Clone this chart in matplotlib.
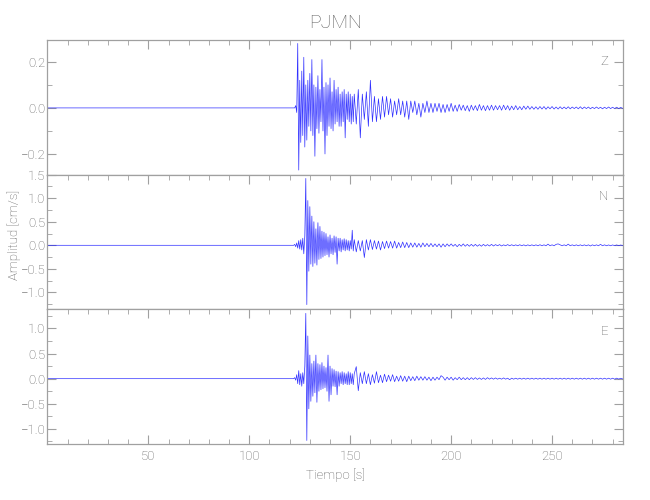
"""
    SEISMOGRAM PJMN - three components (Z, N, E)
"""
import numpy as np
from matplotlib import pyplot as plt
from matplotlib.ticker import MultipleLocator

# -- Station and components --
station = "PJMN"
components = ["Z", "N", "E"]

# -- Time sampling (s) --
pre_t = [0.0, 122.0]          # quiet part before the event
early_t0, early_dt = 122.0, 0.5
late_t0, late_dt = 152.0, 1.0

# -- Z component peaks (cm/s) --
z_early = [0.0, 0.0, 0.01, -0.02, 0.28, -0.27, 0.12, -0.15, 0.16, -0.12,
           0.22, -0.17, 0.10, -0.14, 0.12, -0.08, 0.15, -0.10, 0.21, -0.12,
           0.10, -0.21, 0.09, -0.09, 0.14, -0.11, 0.08, -0.06, 0.21, -0.10,
           0.09, -0.20, 0.11, -0.12, 0.10, -0.08, 0.13, -0.09, 0.07, -0.10,
           0.12, -0.07, 0.08, -0.06, 0.09, -0.08, 0.06, -0.08, 0.07, -0.06,
           0.08, -0.13, 0.06, -0.05, 0.07, -0.06, 0.06, -0.07, 0.05, -0.06]
z_late = [0.06, -0.07, 0.08, -0.13, 0.06, -0.05, 0.07, -0.08, 0.12, -0.06,
          0.05, -0.06, 0.04, -0.05, 0.05, -0.04, 0.05, -0.03, 0.04, -0.04,
          0.03, -0.03, 0.04, -0.03, 0.03, -0.04, 0.03, -0.05, 0.03, -0.02,
          0.03, -0.03, 0.02, -0.04, 0.02, -0.02, 0.03, -0.02, 0.02, -0.02,
          0.02, -0.015, 0.02, -0.02, 0.015, -0.02, 0.015, -0.015, 0.02, -0.015,
          0.012, -0.015, 0.015, -0.01, 0.012, -0.012, 0.01, -0.015, 0.012, -0.01,
          0.01, -0.012, 0.015, -0.01, 0.01, -0.012, 0.01, -0.01, 0.012, -0.01,
          0.01, -0.008, 0.01, -0.01, 0.012, -0.008, 0.01, -0.01, 0.008, -0.008,
          0.01, -0.008, 0.006, -0.008, 0.008, -0.006, 0.008, -0.006, 0.006, -0.006,
          0.005, -0.006, 0.006, -0.005, 0.006, -0.006, 0.005, -0.004, 0.006, -0.005,
          0.004, -0.005, 0.005, -0.004, 0.004, -0.004, 0.005, -0.004, 0.004, -0.003,
          0.004, -0.004, 0.005, -0.004, 0.004, -0.003, 0.004, -0.004, 0.003, -0.003,
          0.004, -0.003, 0.003, -0.004, 0.003, -0.003, 0.004, -0.003, 0.003, -0.003,
          0.003, -0.003, 0.002, -0.002]

# -- N component peaks (cm/s) --
n_early = [0.0, 0.02, -0.03, 0.05, -0.06, 0.10, -0.08, 0.12, -0.10, 0.15,
           -0.18, 0.20, 1.42, -1.26, 0.95, -0.55, 0.82, -0.40, 0.62, -0.45,
           0.50, -0.38, 0.35, -0.42, 0.48, -0.30, 0.40, -0.28, 0.30, -0.25,
           0.28, -0.22, 0.25, -0.20, 0.18, -0.25, 0.22, -0.18, 0.15, -0.20,
           0.20, -0.15, 0.18, -0.40, 0.15, -0.12, 0.15, -0.14, 0.12, -0.10,
           0.14, -0.12, 0.12, -0.10, 0.10, -0.12, 0.10, -0.08, 0.32, -0.12]
n_late = [0.12, -0.14, 0.10, -0.12, 0.10, -0.26, 0.12, -0.10, 0.12, -0.09,
          0.10, -0.08, 0.09, -0.10, 0.08, -0.07, 0.09, -0.06, 0.08, -0.06,
          0.09, -0.06, 0.06, -0.05, 0.07, -0.05, 0.06, -0.05, 0.05, -0.04,
          0.05, -0.04, 0.04, -0.04, 0.05, -0.03, 0.04, -0.03, 0.04, -0.03,
          0.03, -0.03, 0.03, -0.04, 0.03, -0.03, 0.03, -0.02, 0.03, -0.02,
          0.02, -0.03, 0.02, -0.02, 0.03, -0.02, 0.02, -0.02, 0.02, -0.02,
          0.02, -0.02, 0.015, -0.02, 0.02, -0.015, 0.015, -0.015, 0.02, -0.015,
          0.015, -0.01, 0.015, -0.015, 0.01, -0.01, 0.015, -0.01, 0.012, -0.01,
          0.01, -0.01, 0.012, -0.01, 0.01, -0.012, 0.01, -0.01, 0.01, -0.01,
          0.01, -0.01, 0.012, -0.01, 0.01, -0.01, 0.025, -0.01, 0.01, -0.01,
          0.02, 0.03, 0.01, -0.01, 0.01, -0.01, 0.025, -0.01, 0.01, -0.01,
          0.01, -0.01, 0.01, -0.01, 0.01, -0.01, 0.01, -0.015, 0.01, -0.01,
          0.01, -0.01, 0.02, -0.01, 0.01, -0.01, 0.008, -0.01, 0.008, -0.008,
          0.008, -0.008, 0.006, -0.005]

# -- E component peaks (cm/s) --
e_early = [0.0, 0.02, -0.03, 0.08, -0.10, 0.16, -0.12, 0.10, -0.15, 0.12,
           -0.10, 0.25, 1.30, -1.23, 0.85, -0.60, 0.47, -0.45, 0.30, -0.35,
           0.35, -0.28, 0.47, -0.47, 0.30, -0.25, 0.28, -0.22, 0.32, -0.20,
           0.25, -0.18, 0.22, -0.25, 0.47, -0.45, 0.25, -0.32, 0.20, -0.15,
           0.18, -0.16, 0.15, -0.32, 0.14, -0.15, 0.12, -0.10, 0.14, -0.12,
           0.12, -0.10, 0.10, -0.12, 0.14, -0.12, 0.12, -0.10, 0.10, -0.12]
e_late = [0.10, 0.24, -0.24, 0.12, -0.10, 0.14, -0.10, 0.10, -0.12, 0.08,
          -0.09, 0.14, -0.08, 0.07, -0.08, 0.09, -0.06, 0.07, -0.05, 0.08,
          -0.06, 0.05, -0.05, 0.06, -0.05, 0.05, -0.06, 0.05, -0.04, 0.04,
          -0.04, 0.05, -0.03, 0.04, -0.03, 0.04, -0.03, 0.03, -0.04, 0.03,
          -0.03, 0.03, -0.02, 0.06, 0.03, -0.03, 0.03, -0.02, 0.03, -0.03,
          0.02, -0.02, 0.03, -0.02, 0.02, -0.02, 0.02, -0.02, 0.02, -0.015,
          0.02, -0.015, 0.015, -0.015, 0.015, -0.015, 0.02, -0.01, 0.015, -0.01,
          0.015, -0.01, 0.01, -0.01, 0.015, -0.01, 0.01, -0.02, 0.01, -0.01,
          0.01, -0.01, 0.01, -0.01, 0.01, -0.01, 0.01, -0.01, 0.01, -0.01,
          0.01, -0.01, 0.01, -0.01, 0.01, -0.01, 0.01, -0.01, 0.01, -0.01,
          0.01, -0.01, 0.01, -0.01, 0.01, -0.01, 0.01, -0.01, 0.01, -0.01,
          0.01, -0.01, 0.01, -0.01, 0.01, -0.01, 0.01, -0.01, 0.01, -0.01,
          0.01, -0.01, 0.01, -0.01, 0.01, -0.01, 0.01, -0.01, 0.01, -0.01,
          0.01, -0.008, 0.008, -0.005]

traces = [(z_early, z_late), (n_early, n_late), (e_early, e_late)]

# -- Axis limits and ticks per panel --
y_limits = [(-0.29, 0.295), (-1.36, 1.5), (-1.3, 1.38)]
y_major = [0.2, 0.5, 0.5]
y_minor = [0.1, 0.25, 0.25]
x_limits = (0, 285)
x_ticks = [50, 100, 150, 200, 250]

GREY = '#a0a0a0'
TEXT = '#5e5e5e'

plt.rcParams['font.family'] = ['Roboto', 'DejaVu Sans']
plt.rcParams['font.weight'] = 'light'

fig, axes = plt.subplots(3, 1, figsize=(6.5, 5), dpi=100, sharex=True)
fig.subplots_adjust(left=0.073, right=0.958, top=0.92, bottom=0.112, hspace=0)

for k, ax in enumerate(axes):
    early, late = traces[k]
    t = np.concatenate([pre_t,
                        early_t0 + early_dt * np.arange(len(early)),
                        late_t0 + late_dt * np.arange(len(late))])
    y = np.concatenate([[0.0, 0.0], early, late])
    ax.plot(t, y, color='#1a1aff', linewidth=0.5, alpha=0.9)

    ax.set_xlim(*x_limits)
    ax.set_ylim(*y_limits[k])
    ax.yaxis.set_major_locator(MultipleLocator(y_major[k]))
    ax.yaxis.set_minor_locator(MultipleLocator(y_minor[k]))
    ax.set_xticks(x_ticks)
    ax.xaxis.set_minor_locator(MultipleLocator(10))

    for side in ax.spines.values():
        side.set_color(GREY)
        side.set_linewidth(0.9)
    ax.tick_params(which='both', direction='in', colors=GREY, labelcolor=TEXT,
                   left=True, right=True, top=True, bottom=(k == 2),
                   labelsize=9.5)
    ax.tick_params(axis='y', pad=1.5)
    ax.tick_params(axis='x', pad=4)
    ax.tick_params(which='major', length=6.5)
    ax.tick_params(which='minor', length=3.3)

    ax.text(0.975, 0.838, components[k], transform=ax.transAxes,
            ha='right', va='center', color=TEXT, fontsize=9.5)

axes[0].set_title(station, color=TEXT, fontsize=14, pad=9, fontweight='light')
fig.text(14 / 650, 1 - 235 / 500, "Amplitud [cm/s]", rotation=90,
         ha='center', va='center', color=TEXT, fontsize=9.5)
axes[2].set_xlabel("Tiempo [s]", color=TEXT, fontsize=9.5, labelpad=4,
                   fontweight='light')

plt.savefig("out.png", dpi=100)
